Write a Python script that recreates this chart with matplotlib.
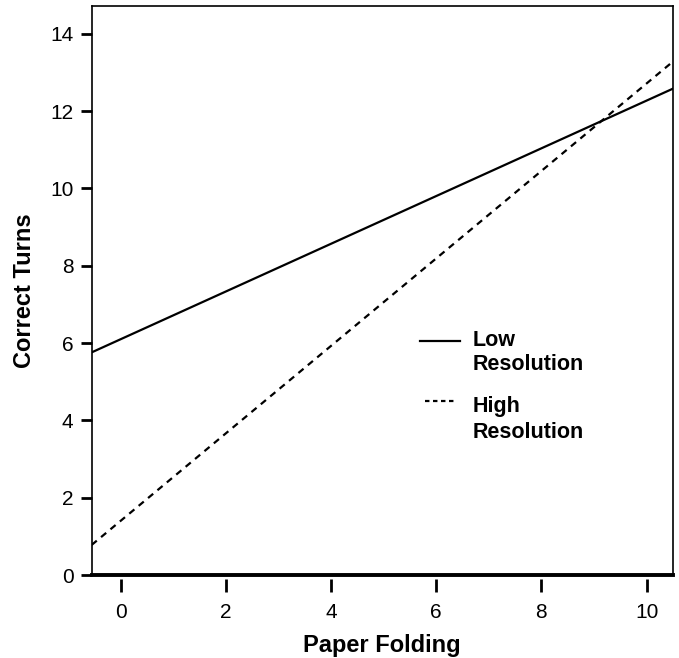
import matplotlib.pyplot as plt
from matplotlib.lines import Line2D

plt.rcParams['font.family'] = ['Liberation Sans', 'DejaVu Sans']

# fitted lines read at the left / right edges of the plot
x_ends = [-0.55, 10.5]
low_res = [5.76, 12.58]
high_res = [0.78, 13.28]

x_ticks = [0, 2, 4, 6, 8, 10]
y_ticks = [0, 2, 4, 6, 8, 10, 12, 14]

fig = plt.figure(figsize=(6.79, 6.58), dpi=100)
ax = fig.add_axes([0.135, 0.126, 0.856, 0.865])

dash = (0, (3, 2.5))
ax.plot(x_ends, low_res, color='black', lw=1.6)
ax.plot(x_ends, high_res, color='black', lw=1.6, ls=dash)

ax.set_xlim(x_ends)
ax.set_ylim(0, 14.72)
ax.set_xticks(x_ticks)
ax.set_yticks(y_ticks)

# thick baseline at y=0, x ticks hang a bit below it
ax.spines['bottom'].set_position(('outward', 3))
ax.spines['bottom'].set_visible(False)
ax.axhline(0, color='black', lw=2.8, clip_on=False, zorder=5)
for s in ['left', 'right', 'top']:
    ax.spines[s].set_linewidth(1.2)

ax.tick_params(axis='x', direction='out', length=9, width=2, labelsize=15, pad=8)
ax.tick_params(axis='y', direction='out', length=8, width=2, labelsize=15, pad=5)

ax.set_xlabel('Paper Folding', fontsize=17, fontweight='bold')
ax.set_ylabel('Correct Turns', fontsize=17, fontweight='bold')
ax.xaxis.set_label_coords(0.5, -0.104)
ax.yaxis.set_label_coords(-0.095, 0.5)

# legend drawn by hand: handle sits next to the first line of each label
tr = ax.transAxes
ax.add_line(Line2D([0.565, 0.634], [0.411, 0.411], transform=tr, color='black', lw=1.6))
ax.add_line(Line2D([0.574, 0.623], [0.306, 0.306], transform=tr, color='black', lw=1.6,
                   ls=(0, (2, 1.6))))
leg_font = dict(fontsize=15.5, fontweight='bold', transform=tr, va='center', ha='left')
ax.text(0.656, 0.413, 'Low', **leg_font)
ax.text(0.656, 0.370, 'Resolution', **leg_font)
ax.text(0.656, 0.297, 'High', **leg_font)
ax.text(0.656, 0.251, 'Resolution', **leg_font)

fig.savefig('out.png', dpi=100)
